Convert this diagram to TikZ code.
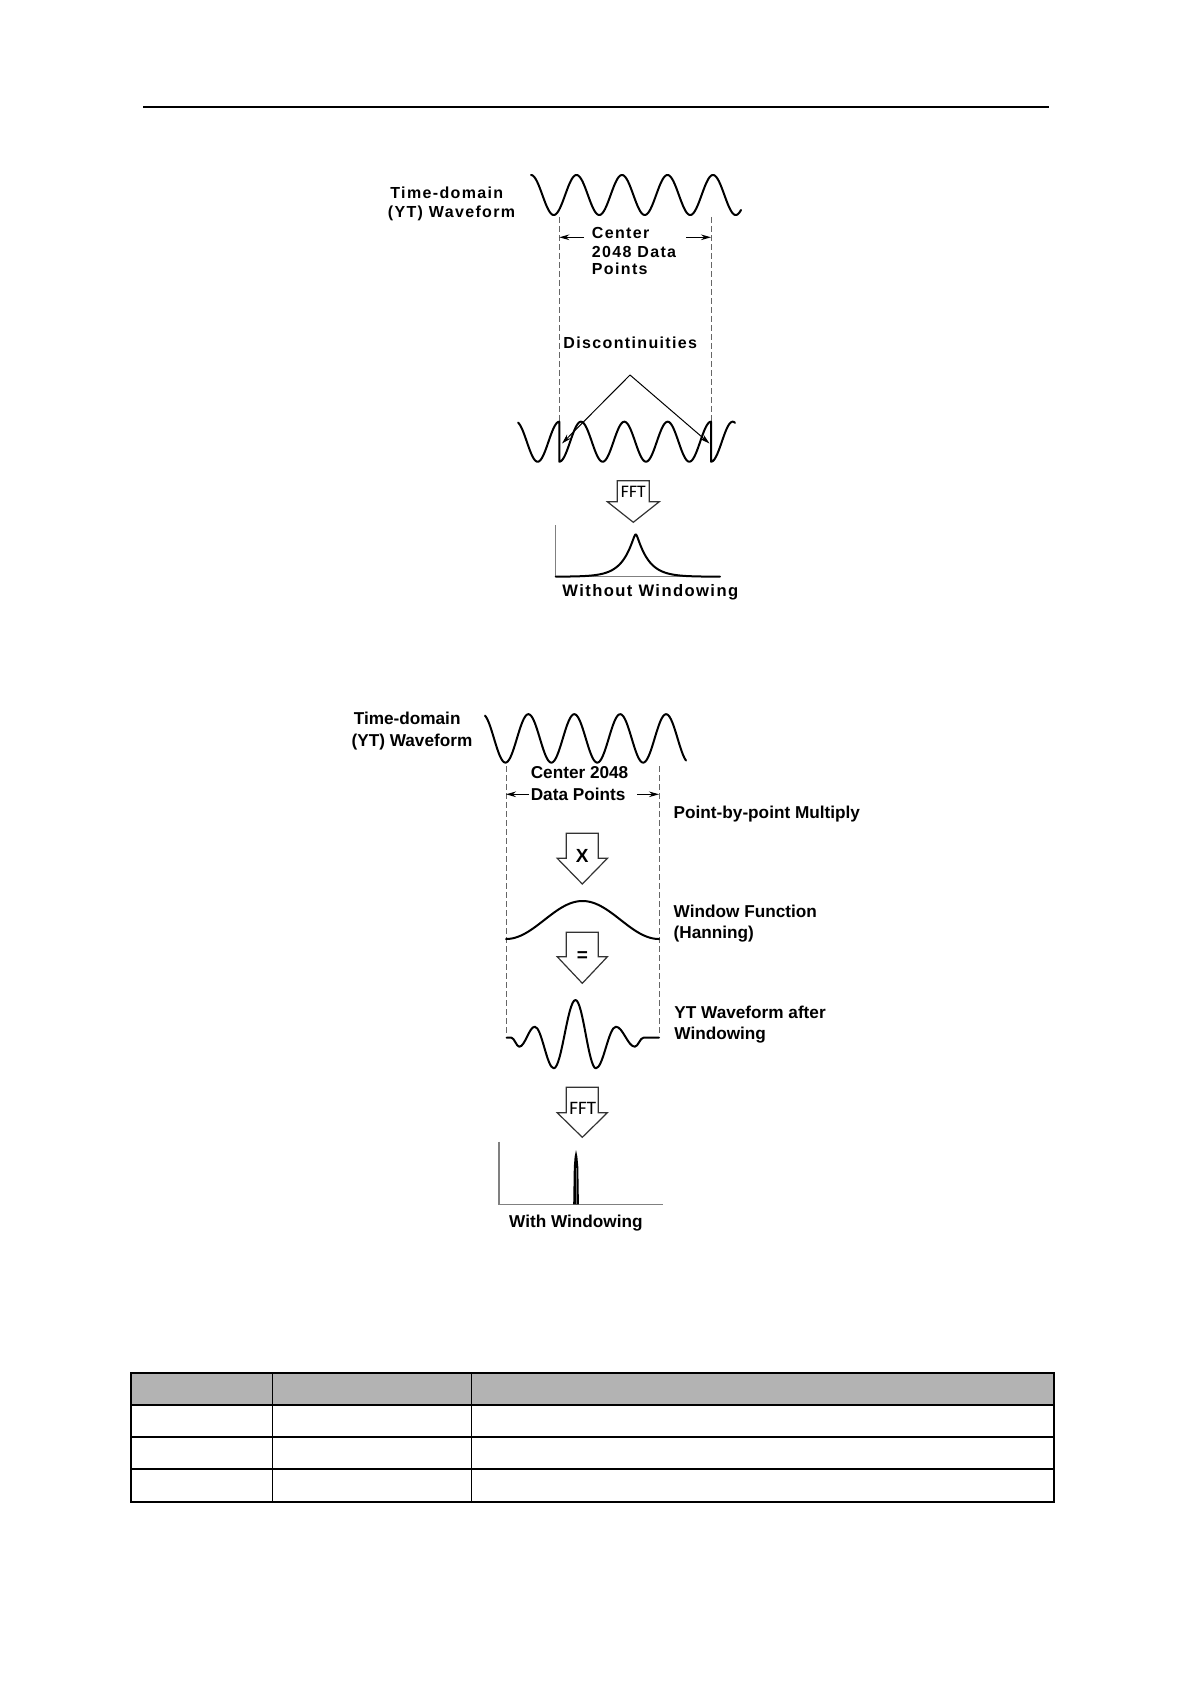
\documentclass[tikz,border=0pt]{standalone}
\usepackage{fontspec}
\setmainfont{Liberation Sans}
\newfontfamily\lsfont[LetterSpace=8.5]{Liberation Sans}
\newfontfamily\cfont{Carlito}
\usetikzlibrary{arrows.meta}
\definecolor{hdrgray}{RGB}{179,179,179}
\begin{document}
\begin{tikzpicture}[x=0.5pt,y=-0.5pt,
  lblA/.style={font={\lsfont\bfseries\fontsize{8}{9.2}\selectfont}, inner sep=0pt, anchor=base west},
  lblB/.style={font={\bfseries\fontsize{8.6}{10.8}\selectfont}, inner sep=0pt, anchor=base west},
  fftA/.style={font={\cfont\fontsize{8.8}{9}\selectfont}, inner sep=0pt, anchor=base},
  fftB/.style={font={\cfont\fontsize{9.5}{10}\selectfont}, inner sep=0pt, anchor=base},
  opsym/.style={font={\bfseries\fontsize{9.5}{10}\selectfont}, inner sep=0pt, anchor=base},
  wave/.style={line width=1pt, line join=round, line cap=round},
  guide/.style={draw=black!60, line width=0.5pt, dash pattern=on 3pt off 1.5pt},
  dimarrow/.style={-{Stealth[length=5pt,width=2.8pt]}, line width=0.5pt},
  blockarrow/.style={draw=black!80, line width=0.6pt, fill=white, line join=miter},
  axisline/.style={draw=black!50, line width=0.6pt},
  tblline/.style={line width=0.8pt},
]
\useasboundingbox (0,0) rectangle (1190,1684);

% header rule
\draw[line width=0.9pt] (143,107.4) -- (1049,107.4);

%================ Diagram 1 : without windowing ================
\node[lblA] (tdA1) at (390,199) {Time-domain};
\node[lblA] (tdA2) at (387.5,217.3) {(YT) Waveform};

\draw[wave] plot[domain=531:741, samples=240] (\x,{195-20*cos(((\x-531)/45.5)*360)});

\coordinate (dAlt) at (559.3,217);
\coordinate (dAlb) at (559.3,424);
\coordinate (dArt) at (711,217);
\coordinate (dArb) at (711,424);
\draw[guide] (dAlt) -- (dAlb);
\draw[guide] (dArt) -- (dArb);

\node[lblA] (cA1) at (591.5,238.7) {Center};
\node[lblA] (cA2) at (591.5,257.4) {2048 Data};
\node[lblA] (cA3) at (591.5,274.7) {Points};
\coordinate (caL) at (584,237.3);
\coordinate (caR) at (686,237.3);
\draw[dimarrow] (caL) -- (caL -| dAlt);
\draw[dimarrow] (caR) -- (caR -| dArt);

\node[lblA] (disc) at (563,348.4) {Discontinuities};

% discontinuous (repeated) waveform
\draw[wave] plot[domain=518:559.3, samples=60] (\x,{441.7-20*cos(((\x-559.3)/43.343)*360)})
  -- plot[domain=559.3:711, samples=180] (\x,{441.7+20*cos(((\x-559.3)/43.343)*360)})
  -- plot[domain=711:735, samples=40] (\x,{441.7+20*cos(((\x-711)/43.343)*360)});

\coordinate (apex) at (630,375);
\coordinate (discL) at (562,443.5);
\coordinate (discR) at (709.5,443.5);
\draw[dimarrow] (apex) -- (discL);
\draw[dimarrow] (apex) -- (discR);

% FFT block arrow
\draw[blockarrow] (617.3,480.7) -- (649.3,480.7) -- (649.3,501.7) -- (659.3,501.7)
  -- (633.3,522.3) -- (607.3,501.7) -- (617.3,501.7) -- cycle;
\node[fftA] (fftA) at (633.3,497) {FFT};

% spectrum without windowing
\draw[axisline] (555.7,525) -- (555.7,576.7) -- (720,576.7);
\draw[wave] plot[domain=555.7:720, samples=600] (\x,{576.7-47.5*exp(-sqrt((\x-635.7)^2+2)/12)});
\node[lblA, anchor=base, font={\lsfont\bfseries\fontsize{8.3}{9.2}\selectfont}] (woW) at (650.3,596) {Without Windowing};

%================ Diagram 2 : with windowing ================
\node[lblB] (tdB1) at (353.4,724.7) {Time-domain};
\node[lblB] (tdB2) at (351.2,746.2) {(YT) Waveform};

\draw[wave] plot[domain=485:686, samples=240] (\x,{738.4-24.2*cos(((\x-482.5)/45.9)*360)});

\coordinate (dBlt) at (506,766);
\coordinate (dBlb) at (506,1036);
\coordinate (dBrt) at (659,766);
\coordinate (dBrb) at (659,1036);
\draw[guide] (dBlt) -- (dBlb);
\draw[guide] (dBrt) -- (dBrb);

\node[lblB] (cB1) at (530.4,778.9) {Center 2048};
\node[lblB] (cB2) at (530.4,800.5) {Data Points};
\coordinate (cbL) at (529,794.3);
\coordinate (cbR) at (637,794.3);
\draw[dimarrow] (cbL) -- (cbL -| dBlt);
\draw[dimarrow] (cbR) -- (cbR -| dBrt);

\node[lblB] (pbp) at (673.3,818.5) {Point-by-point Multiply};

% multiply block arrow
\draw[blockarrow] (566.3,833.3) -- (598.3,833.3) -- (598.3,858.3) -- (607.4,858.3)
  -- (582.3,884) -- (557.2,858.3) -- (566.3,858.3) -- cycle;
\node[opsym] (mult) at (582.3,862.7) {X};

% Hanning window
\draw[wave] plot[domain=506:659, samples=160] (\x,{939-38*(0.5-0.5*cos(((\x-506)/153)*360))});
\node[lblB] (wf1) at (673.3,917.2) {Window Function};
\node[lblB] (wf2) at (673.3,938.5) {(Hanning)};

% equals block arrow
\draw[blockarrow] (566.3,932.3) -- (598.3,932.3) -- (598.3,956.7) -- (607.4,956.7)
  -- (582.3,983.3) -- (557.2,956.7) -- (566.3,956.7) -- cycle;
\node[opsym] (eq) at (582.3,961.6) {=};

% windowed waveform
\draw[wave] (506.6,1037.7) -- (511.4,1037.7)
  \foreach \xa/\ya/\xb/\yb in {511.4/1037.7/519.3/1046.7, 519.3/1046.7/534.8/1026.7,
     534.8/1026.7/553.8/1068.3, 553.8/1068.3/575.5/1000, 575.5/1000/595.9/1068.3,
     595.9/1068.3/615.9/1026.7, 615.9/1026.7/634.8/1046.7, 634.8/1046.7/643.4/1037.7}
  { .. controls ({\xa+0.363*(\xb-\xa)},\ya) and ({\xb-0.363*(\xb-\xa)},\yb) .. (\xb,\yb) }
  -- (659,1037.7);
\node[lblB] (yt1) at (674,1018.9) {YT Waveform after};
\node[lblB] (yt2) at (674,1039.5) {Windowing};

% FFT block arrow 2
\draw[blockarrow] (566.3,1087.3) -- (598.3,1087.3) -- (598.3,1112.7) -- (607.4,1112.7)
  -- (582.3,1137.3) -- (557.2,1112.7) -- (566.3,1112.7) -- cycle;
\node[fftB] (fftB) at (582.8,1114.5) {FFT};

% spectrum with windowing
\draw[axisline] (499,1141.7) -- (499,1204.3) -- (663,1204.3);
\fill (573.2,1204.3) -- (573.8,1167) -- (574.6,1157) -- (576,1150) -- (577.4,1157)
  -- (578.3,1167) -- (578.9,1204.3) -- cycle;
\draw[black!55, line width=0.4pt] (576,1168) -- (576,1203.5);
\node[lblB, anchor=base] (wW) at (575.9,1227.8) {With Windowing};

%================ Table ================
\fill[hdrgray] (131,1373) rectangle (1053.5,1405);
\foreach \yy in {1405,1437,1469} \draw[tblline] (131,\yy) -- (1053.5,\yy);
\foreach \xx in {272.5,471.5} \draw[tblline] (\xx,1373) -- (\xx,1501.5);
\draw[line width=1pt] (131,1373) rectangle (1053.5,1501.5);
\end{tikzpicture}
\end{document}
